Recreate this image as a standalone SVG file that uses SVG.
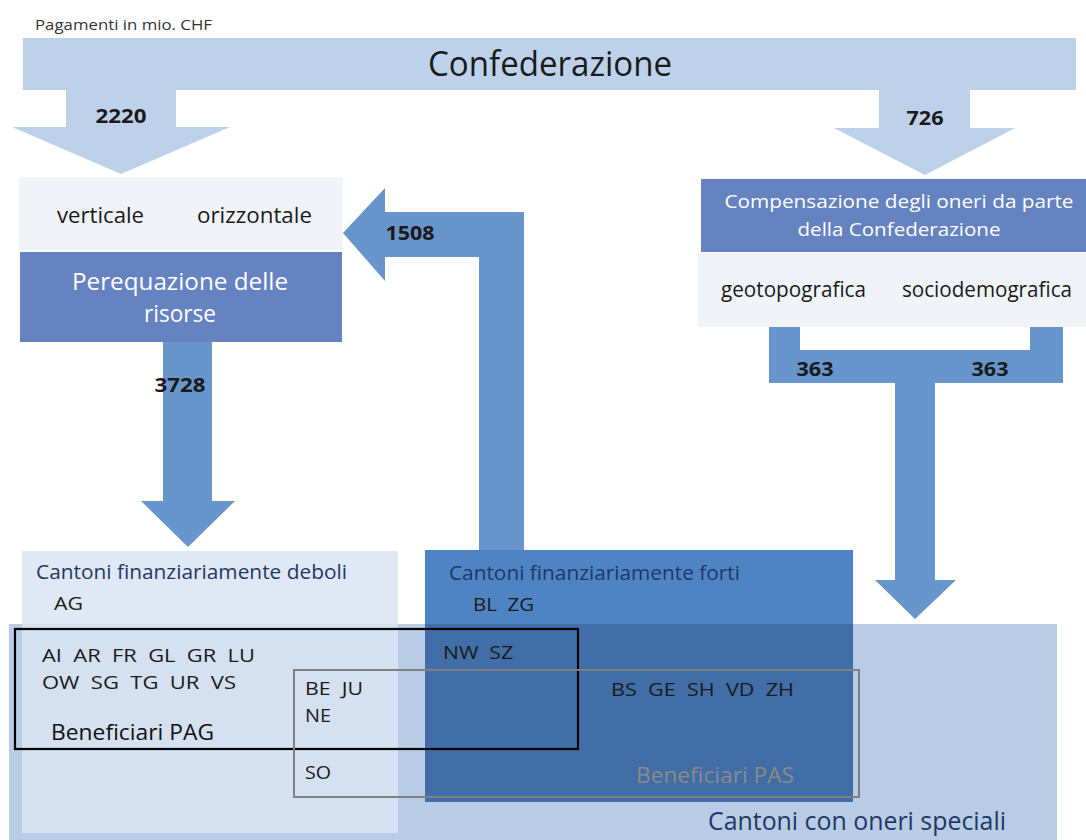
<svg xmlns="http://www.w3.org/2000/svg" width="1086" height="840" viewBox="0 0 1086 840">
<style>
text{font-family:"Open Sans","Liberation Sans",sans-serif;}
.num{font-weight:bold;font-size:20px;fill:#1a1a1a;text-anchor:middle;}
.lbl{font-size:21px;fill:#1a1a1a;}
.wht{font-size:23px;fill:#ffffff;text-anchor:middle;}
.wht2{font-size:19px;fill:#ffffff;text-anchor:middle;}
.hdr{font-size:20px;fill:#1f3864;}
.cant{font-size:19px;fill:#1a1a1a;}
.light{fill:#bdd1ea;}
.mid{fill:#6795cc;}
</style>
<text x="35" y="30" font-size="15" fill="#333" textLength="177" lengthAdjust="spacingAndGlyphs">Pagamenti in mio. CHF</text>
<g id="confederazione">
<rect class="light" x="23" y="38" width="1053" height="52"/>
<text x="550" y="76" font-size="34" fill="#1a1a1a" text-anchor="middle" textLength="244" lengthAdjust="spacingAndGlyphs">Confederazione</text>
</g>
<g id="connectors">
<polygon class="light" points="66,90 176,90 176,127 230,127 121,174 12,127 66,127"/>
<polygon class="light" points="879,90 970,90 970,128 1015,128 925,175 834,128 879,128"/>
<polygon class="mid" points="163,342 212,342 212,501 235,501 188,547 141,501 163,501"/>
<polygon class="mid" points="479,550 479,257 385,257 385,281 343,233 385,188 385,212 524,212 524,550"/>
<polygon class="mid" points="769,322 800,322 800,350 1030,350 1030,321 1063,321 1063,383 935,383 935,580 956,580 915,619 875,580 895,580 895,383 769,383"/>
<text class="num" x="121" y="123" textLength="51" lengthAdjust="spacingAndGlyphs">2220</text>
<text class="num" x="925" y="125" textLength="37" lengthAdjust="spacingAndGlyphs">726</text>
<text class="num" x="410" y="240" textLength="49" lengthAdjust="spacingAndGlyphs">1508</text>
<text class="num" x="180" y="392" textLength="51" lengthAdjust="spacingAndGlyphs">3728</text>
<text class="num" x="815" y="376" textLength="37" lengthAdjust="spacingAndGlyphs">363</text>
<text class="num" x="990" y="376" textLength="37" lengthAdjust="spacingAndGlyphs">363</text>
</g>
<g id="tipi">
<rect x="19" y="177" width="324" height="73" fill="#f0f4f9"/>
<text class="lbl" x="57" y="223" textLength="87" lengthAdjust="spacingAndGlyphs">verticale</text>
<text class="lbl" x="197" y="223" textLength="115" lengthAdjust="spacingAndGlyphs">orizzontale</text>
</g>
<g id="perequazione">
<rect x="20" y="252" width="322" height="90" fill="#6582c1"/>
<text class="wht" x="180" y="290" textLength="216" lengthAdjust="spacingAndGlyphs">Perequazione delle</text>
<text class="wht" x="180" y="322" textLength="72" lengthAdjust="spacingAndGlyphs">risorse</text>
</g>
<g id="compensazione">
<rect x="701" y="179" width="385" height="73" fill="#6582c1"/>
<text class="wht2" x="899" y="208" textLength="349" lengthAdjust="spacingAndGlyphs">Compensazione degli oneri da parte</text>
<text class="wht2" x="899" y="236" textLength="203" lengthAdjust="spacingAndGlyphs">della Confederazione</text>
</g>
<g id="geo-socio">
<rect x="698" y="253" width="388" height="74" fill="#f0f4f9"/>
<text class="lbl" x="721" y="297" textLength="145" lengthAdjust="spacingAndGlyphs">geotopografica</text>
<text class="lbl" x="902" y="297" textLength="170" lengthAdjust="spacingAndGlyphs">sociodemografica</text>
</g>
<g id="oneri-speciali">
<rect x="9" y="624" width="1048" height="216" fill="#b8cce6"/>
<text x="708" y="830" font-size="26" fill="#1f3864" textLength="298" lengthAdjust="spacingAndGlyphs">Cantoni con oneri speciali</text>
</g>
<g id="deboli">
<rect x="22" y="551" width="376" height="73" fill="#dfe8f4"/>
<rect x="22" y="624" width="376" height="209" fill="#d5e0f0"/>
<text class="hdr" x="36" y="579" textLength="311" lengthAdjust="spacingAndGlyphs">Cantoni finanziariamente deboli</text>
<text class="cant" x="54" y="610" textLength="29" lengthAdjust="spacingAndGlyphs">AG</text>
<text class="cant" x="42" y="662" textLength="213" lengthAdjust="spacingAndGlyphs" xml:space="preserve">AI  AR  FR  GL  GR  LU</text>
<text class="cant" x="42" y="689" textLength="194" lengthAdjust="spacingAndGlyphs" xml:space="preserve">OW  SG  TG  UR  VS</text>
<text class="cant" x="305" y="695" textLength="58" lengthAdjust="spacingAndGlyphs" xml:space="preserve">BE  JU</text>
<text class="cant" x="305" y="722" textLength="26" lengthAdjust="spacingAndGlyphs">NE</text>
<text class="cant" x="305" y="779" textLength="26" lengthAdjust="spacingAndGlyphs">SO</text>
</g>
<g id="forti">
<rect x="425" y="550" width="428" height="74" fill="#4f84c4"/>
<rect x="425" y="624" width="428" height="178" fill="#416ea7"/>
<text class="hdr" x="449" y="580" textLength="291" lengthAdjust="spacingAndGlyphs">Cantoni finanziariamente forti</text>
<text class="cant" x="473" y="611" textLength="61" lengthAdjust="spacingAndGlyphs" xml:space="preserve">BL  ZG</text>
<text class="cant" x="443" y="659" textLength="70" lengthAdjust="spacingAndGlyphs" xml:space="preserve">NW  SZ</text>
<text class="cant" x="611" y="696" textLength="183" lengthAdjust="spacingAndGlyphs" xml:space="preserve">BS  GE  SH  VD  ZH</text>
</g>
<g id="beneficiari-pag">
<rect x="15" y="629" width="563" height="120" fill="none" stroke="#000" stroke-width="2.2"/>
<text x="51" y="740" font-size="22" fill="#111" textLength="163" lengthAdjust="spacingAndGlyphs">Beneficiari PAG</text>
</g>
<g id="beneficiari-pas">
<rect x="294" y="670" width="565" height="127" fill="none" stroke="#808080" stroke-width="2"/>
<text x="636" y="783" font-size="22" fill="#8a8a8a" textLength="158" lengthAdjust="spacingAndGlyphs">Beneficiari PAS</text>
</g>
</svg>
